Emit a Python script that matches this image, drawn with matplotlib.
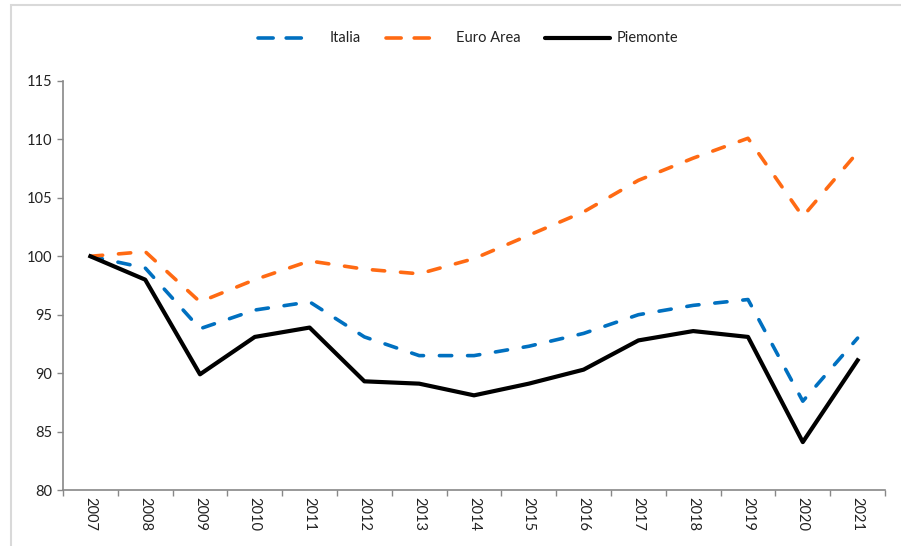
import matplotlib
matplotlib.use("Agg")
import matplotlib.pyplot as plt
from matplotlib.patches import Rectangle
from matplotlib.lines import Line2D

years = [str(y) for y in range(2007, 2022)]
italia = [100, 99.0, 93.8, 95.4, 96.1, 93.1, 91.5, 91.5, 92.3, 93.4, 95.0, 95.8, 96.3, 87.6, 93.0]
euro_area = [100, 100.4, 96.1, 98.0, 99.6, 98.9, 98.5, 99.8, 101.8, 103.8, 106.5, 108.4, 110.1, 103.4, 108.9]
piemonte = [100, 98.0, 89.9, 93.1, 93.9, 89.3, 89.1, 88.1, 89.1, 90.3, 92.8, 93.6, 93.1, 84.1, 91.1]
yticks = [80, 85, 90, 95, 100, 105, 110, 115]
series_names = ['Italia', 'Euro Area', 'Piemonte']

plt.rcParams['font.family'] = ['Lato', 'DejaVu Sans']

W, H = 901, 546
fig = plt.figure(figsize=(W/100, H/100), dpi=100)
ax = fig.add_axes([63/W, 1-490/H, (885-63)/W, (490-81)/H])

blue, orange = '#0070C0', '#FF6A13'
dash_style = dict(lw=2.6, dashes=(3.4, 4.4), dash_capstyle='round')

x = list(range(len(years)))
ax.plot(x, italia, color=blue, **dash_style)
ax.plot(x, euro_area, color=orange, **dash_style)
ax.plot(x, piemonte, color='black', lw=3.0)

ax.set_xlim(-0.5, len(years) - 0.5)
ax.set_ylim(80, 115)
ax.set_yticks(yticks)
ax.set_yticklabels([str(v) for v in yticks], fontsize=10.5, color='#222222')
ax.set_xticks(x)
ax.set_xticklabels(years, rotation=-90, fontsize=10.5, color='#222222')
ax.set_xticks([i - 0.5 for i in range(len(years) + 1)], minor=True)
ax.tick_params(axis='x', which='major', length=0, pad=5)
ax.tick_params(axis='x', which='minor', length=4, color='#888888', width=1)
ax.tick_params(axis='y', length=4, color='#888888', width=1, pad=4)

for s in ['top', 'right']:
    ax.spines[s].set_visible(False)
for s in ['left', 'bottom']:
    ax.spines[s].set_color('#888888')
    ax.spines[s].set_linewidth(1.2)

# legend drawn by hand to match the spacing of the original
ly = 1 - 38/H
leg_dash = dict(lw=2.6, dashes=(4.2, 3.6), dash_capstyle='round')
handles = [
    ((258, 311), blue, leg_dash, 330),
    ((386, 439), orange, leg_dash, 456),
    ((545, 610), 'black', dict(lw=3.0, solid_capstyle='round'), 617),
]
for name, ((x0, x1), col, st, tx) in zip(series_names, handles):
    fig.add_artist(Line2D([x0/W, x1/W], [ly, ly], transform=fig.transFigure, color=col, **st))
    fig.text(tx/W, ly, name, ha='left', va='center', fontsize=10.5, color='#222222')

fig.patches.append(Rectangle((11/W, -0.1), 2, 1.1 - 5/H, transform=fig.transFigure,
                             fill=False, edgecolor='#d9d9d9', lw=1.5))

fig.savefig('out.png', dpi=100)
